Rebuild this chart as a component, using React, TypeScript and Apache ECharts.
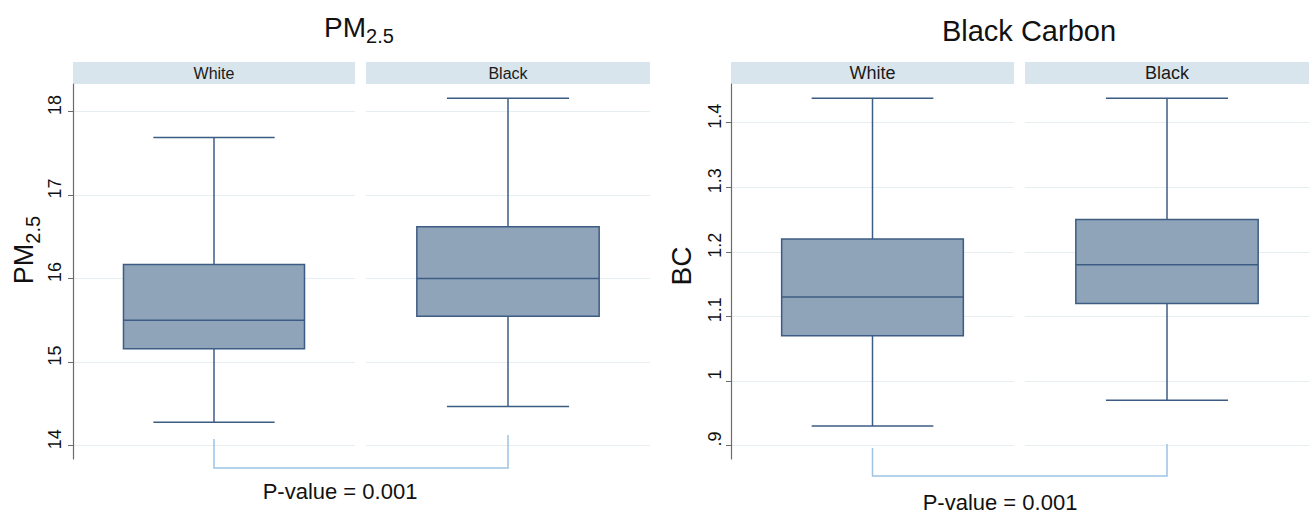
import React, { useEffect, useRef } from 'react';
import * as echarts from 'echarts';

// ---- data ----
const groups = ['White', 'Black'];
// [lower whisker, Q1, median, Q3, upper whisker]
const pmWhite = [14.28, 15.16, 15.5, 16.17, 17.69];
const pmBlack = [14.47, 15.55, 16.0, 16.62, 18.16];
const bcWhite = [0.93, 1.07, 1.13, 1.22, 1.438];
const bcBlack = [0.97, 1.12, 1.18, 1.25, 1.438];
const pmTicks = [14, 15, 16, 17, 18];
const bcTicks = [0.9, 1, 1.1, 1.2, 1.3, 1.4];
const pmRange = [13.84, 18.33];
const bcRange = [0.879, 1.46];
const panelTitles = ['PM2.5', 'Black Carbon'];
const pValueText = 'P-value = 0.001';

const FONT = '"Liberation Sans", Arial, Helvetica, sans-serif';
const BOX_FILL = '#8fa4b9';
const BOX_STROKE = '#3d5c83';
const GRID_COLOR = '#e6eef1';
const STRIP_FILL = '#d9e5ec';
const AXIS_COLOR = '#6b6b6b';
const BRACKET = '#9dc3e6';

const grids = [
  { left: 73, top: 84, width: 282, height: 375 },
  { left: 366, top: 84, width: 284, height: 375 },
  { left: 731, top: 84, width: 283, height: 375 },
  { left: 1025, top: 84, width: 284, height: 375 },
];

const fmtBC = (v: number) => {
  const s = String(Math.round(v * 10) / 10);
  return s.startsWith('0.') ? s.slice(1) : s;
};

function renderBox(params: any, api: any) {
  const c = api.value(0);
  const pts = [1, 2, 3, 4, 5].map((k) => api.coord([c, api.value(k)]));
  const cx = pts[0][0];
  const band = api.size([1, 0])[0];
  const bw = band * 0.642;
  const cw = band * 0.43;
  const [lo, q1, md, q3, hi] = pts.map((p: number[]) => p[1]);
  const ls = { stroke: BOX_STROKE, lineWidth: 1.5 };
  return {
    type: 'group',
    children: [
      { type: 'line', shape: { x1: cx, y1: hi, x2: cx, y2: q3 }, style: ls },
      { type: 'line', shape: { x1: cx, y1: q1, x2: cx, y2: lo }, style: ls },
      { type: 'line', shape: { x1: cx - cw / 2, y1: hi, x2: cx + cw / 2, y2: hi }, style: ls },
      { type: 'line', shape: { x1: cx - cw / 2, y1: lo, x2: cx + cw / 2, y2: lo }, style: ls },
      {
        type: 'rect',
        shape: { x: cx - bw / 2, y: q3, width: bw, height: q1 - q3 },
        style: { fill: BOX_FILL, stroke: BOX_STROKE, lineWidth: 1.5 },
      },
      { type: 'line', shape: { x1: cx - bw / 2, y1: md, x2: cx + bw / 2, y2: md }, style: ls },
    ],
  };
}

export default function App() {
  const ref = useRef<HTMLDivElement>(null);
  useEffect(() => {
    if (!ref.current) return;
    const chart = echarts.init(ref.current, undefined, { renderer: 'svg' });

    const stats = [pmWhite, pmBlack, bcWhite, bcBlack];
    const xAxis = grids.map((_, i) => ({
      gridIndex: i,
      type: 'category',
      data: [groups[i % 2]],
      show: false,
    }));
    const yAxis = grids.map((_, i) => {
      const isPM = i < 2;
      const first = i % 2 === 0;
      const ticks = isPM ? pmTicks : bcTicks;
      const range = isPM ? pmRange : bcRange;
      return {
        gridIndex: i,
        type: 'value',
        min: range[0],
        max: range[1],
        axisLine: { show: first, lineStyle: { color: AXIS_COLOR, width: 1.2 } },
        axisTick: { show: first, length: 5, customValues: ticks, lineStyle: { color: AXIS_COLOR } },
        axisLabel: {
          show: first,
          customValues: ticks,
          rotate: 90,
          margin: isPM ? 9 : 7,
          fontSize: 18,
          padding: [0, 0, 0, 13],
          color: '#111',
          fontFamily: FONT,
          formatter: isPM ? (v: number) => String(v) : fmtBC,
        },
        splitLine: { show: true, lineStyle: { color: GRID_COLOR, width: 1 } },
      };
    });
    const series = grids.map((_, i) => ({
      type: 'custom',
      xAxisIndex: i,
      yAxisIndex: i,
      renderItem: renderBox,
      data: [[0, ...stats[i]]],
      z: 3,
    }));

    const baseGraphics: any[] = [];
    grids.forEach((g, i) => {
      baseGraphics.push({
        type: 'rect',
        shape: { x: g.left, y: 62, width: g.width, height: 22 },
        style: { fill: STRIP_FILL },
        silent: true,
      });
      baseGraphics.push({
        type: 'text',
        x: g.left + g.width / 2,
        y: 73,
        style: {
          text: groups[i % 2],
          align: 'center',
          verticalAlign: 'middle',
          fontSize: i < 2 ? 16 : 18,
          fontFamily: FONT,
          fill: '#1a1a1a',
        },
      });
    });
    const richPM = (main: number, sub: number, pad: number) => ({
      m: { fontSize: main, fontFamily: FONT, fill: '#111', verticalAlign: 'middle' },
      s: { fontSize: sub, fontFamily: FONT, fill: '#111', verticalAlign: 'middle', padding: [pad, 0, 0, 0] },
    });
    // panel titles
    baseGraphics.push({
      type: 'text',
      x: 359,
      y: 27,
      style: {
        text: '{m|PM}{s|2.5}',
        rich: richPM(28, 20, 18),
        align: 'center',
        verticalAlign: 'middle',
      },
    });
    baseGraphics.push({
      type: 'text',
      x: 1029,
      y: 31,
      style: {
        text: panelTitles[1],
        align: 'center',
        verticalAlign: 'middle',
        fontSize: 29,
        fontFamily: FONT,
        fill: '#111',
      },
    });
    // axis titles
    baseGraphics.push({
      type: 'text',
      x: 24,
      y: 250,
      rotation: Math.PI / 2,
      style: {
        text: '{m|PM}{s|2.5}',
        rich: richPM(27, 20, 18),
        align: 'center',
        verticalAlign: 'middle',
      },
    });
    baseGraphics.push({
      type: 'text',
      x: 681,
      y: 266,
      rotation: Math.PI / 2,
      style: {
        text: 'BC',
        align: 'center',
        verticalAlign: 'middle',
        fontSize: 28,
        fontFamily: FONT,
        fill: '#111',
      },
    });
    // p-values
    baseGraphics.push({
      type: 'text',
      x: 340,
      y: 491,
      style: { text: pValueText, align: 'center', verticalAlign: 'middle', fontSize: 22, fontFamily: FONT, fill: '#111' },
    });
    baseGraphics.push({
      type: 'text',
      x: 1000,
      y: 502,
      style: { text: pValueText, align: 'center', verticalAlign: 'middle', fontSize: 22, fontFamily: FONT, fill: '#111' },
    });

    const option: any = {
      animation: false,
      backgroundColor: '#ffffff',
      grid: grids.map((g) => ({ ...g })),
      xAxis,
      yAxis,
      series,
      graphic: baseGraphics,
    };
    chart.setOption(option);

    // brackets linking the two group centres (annotation)
    const cx = (gi: number) => (chart.convertToPixel({ gridIndex: gi } as any, [0, 0]) as number[])[0];
    const brackets = [
      { a: cx(0), b: cx(1), ya: 439, yb: 435, yh: 468 },
      { a: cx(2), b: cx(3), ya: 448, yb: 444, yh: 476 },
    ];
    const bracketGraphics = brackets.map((br) => ({
      type: 'polyline',
      shape: { points: [[br.a, br.ya], [br.a, br.yh], [br.b, br.yh], [br.b, br.yb]] },
      style: { stroke: BRACKET, lineWidth: 1.5, fill: null },
      z: 10,
    }));
    chart.setOption({ graphic: [...baseGraphics, ...bracketGraphics] });

    return () => chart.dispose();
  }, []);
  return <div ref={ref} style={{ position: 'fixed', left: 0, top: 0, width: 1314, height: 519 }} />;
}
